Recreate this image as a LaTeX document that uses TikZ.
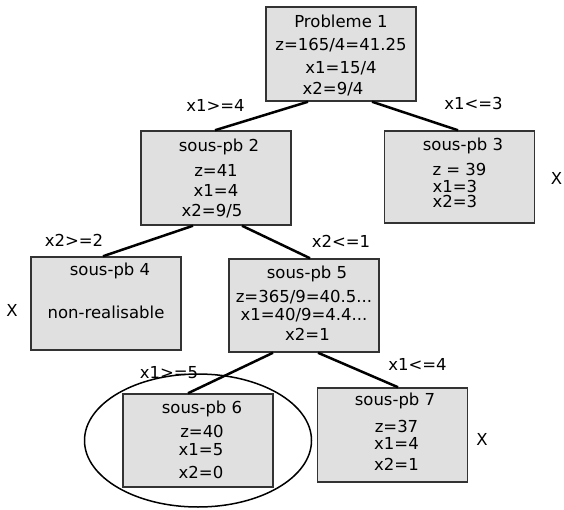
\documentclass[tikz,border=0pt]{standalone}
\usepackage{fontspec}
\setmainfont{DejaVu Sans}
\usetikzlibrary{positioning,calc}

\begin{document}
\begin{tikzpicture}[
    x=1pt, y=-1pt,
    font=\fontsize{16.5}{22}\selectfont,
    subpb/.style={draw=black!80, line width=1.5pt, fill=black!12, minimum width=150pt, minimum height=94pt, inner sep=0pt, align=center},
    branch/.style={line width=2.5pt},
    cut/.style={anchor=base, inner sep=0pt},
    pruned/.style={anchor=base, inner sep=0pt},
]
\useasboundingbox (0,0) rectangle (564,510);

\node[subpb] (pb1) at (341,54) {\rule{0pt}{15.4pt}Probleme 1\\[1pt] z=165/4=41.25\\[1pt] x1=15/4\\[-1pt] x2=9/4\hspace*{16pt}};
\node[subpb] (pb2) at (216,178) {\hspace*{6pt}sous-pb 2\\[3pt] z=41\\[-2pt] x1=4\hspace*{20pt}\\[-2pt] x2=9/5\hspace*{8pt}};
\node[subpb, minimum height=92pt] (pb3) at (459.5,177) {\hspace*{7pt}sous-pb 3\\[3pt] \makebox[54pt][l]{z = 39}\\[-5pt] \makebox[54pt][l]{x1=3}\\[-7pt] \makebox[54pt][l]{x2=3}\rule[-9.5pt]{0pt}{9.5pt}};
\node[subpb, minimum height=93pt] (pb4) at (106,303.5) {\hspace*{8pt}sous-pb 4\\[21pt] non-realisable\rule[-26.5pt]{0pt}{26.5pt}};
\node[subpb, minimum height=93pt] (pb5) at (304,305.5) {\hspace*{6pt}sous-pb 5\\[2pt] z=365/9=40.5...\\[-4pt] x1=40/9=4.4...\\[-2pt] \hspace*{7pt}x2=1\rule[-5.5pt]{0pt}{5.5pt}};
\node[subpb, minimum height=93pt] (pb6) at (198,440.5) {\hspace*{8pt}sous-pb 6\\[2pt] \hspace*{8pt}z=40\\[-4pt] \hspace*{6pt}x1=5\\[1pt] \hspace*{6pt}x2=0\rule[-2.5pt]{0pt}{2.5pt}};
\node[subpb] (pb7) at (392.5,435) {\hspace*{5pt}sous-pb 7\\[5pt] \hspace*{8pt}z=37\\[-5pt] \hspace*{8pt}x1=4\\[-1pt] \hspace*{8pt}x2=1\rule[-7.5pt]{0pt}{7.5pt}};

\draw[branch] ([xshift=-33pt]pb1.south) -- ([xshift=-1pt]pb2.north);
\draw[branch] ([xshift=31pt]pb1.south) -- ([xshift=-1.5pt]pb3.north);
\draw[branch] ([xshift=-23pt]pb2.south) -- ([xshift=-3pt]pb4.north);
\draw[branch] ([xshift=26pt]pb2.south) -- ([xshift=6pt]pb5.north);
\draw[branch] ([xshift=-31pt]pb5.south) -- ([xshift=-10pt]pb6.north);
\draw[branch] ([xshift=14pt]pb5.south) -- ([xshift=5.5pt]pb7.north);

\node[cut] (cut12) at (215.5,112) {x1>=4};
\node[cut] (cut13) at (473.5,109.5) {x1<=3};
\node[cut] (cut24) at (74,246.5) {x2>=2};
\node[cut] (cut25) at (341,248) {x2<=1};
\node[cut] (cut56) at (169,378) {x1>=5};
\node[cut] (cut57) at (417.5,370) {x1<=4};

\node[pruned] (x3) at (556.5,185) {X};
\node[pruned] (x4) at (12,316) {X};
\node[pruned] (x7) at (482,445) {X};

% solution retenue
\draw[line width=1.5pt] (pb6.center) ellipse [x radius=113.5pt, y radius=66.5pt];

\end{tikzpicture}
\end{document}
